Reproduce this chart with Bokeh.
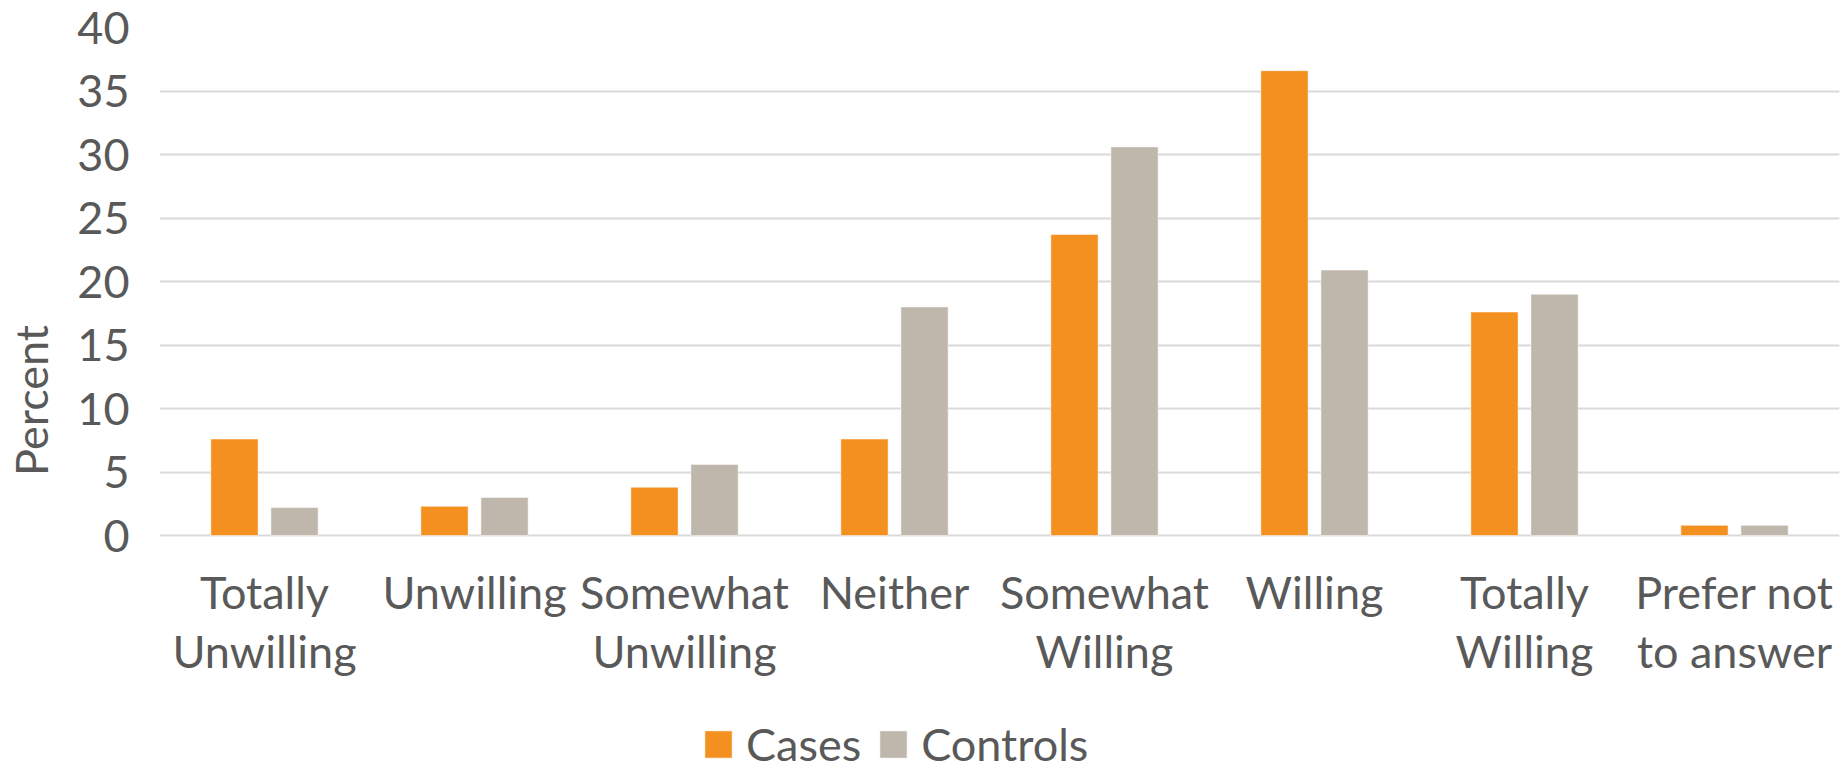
from bokeh.plotting import figure
from bokeh.models import ColumnDataSource, FactorRange, Range1d, FixedTicker, Legend, LegendItem
from bokeh.transform import dodge
from bokeh.core.properties import value
from bokeh.embed import file_html
from bokeh.resources import INLINE

categories = ["Totally Unwilling", "Unwilling", "Somewhat Unwilling", "Neither",
              "Somewhat Willing", "Willing", "Totally Willing", "Prefer not to answer"]
tick_labels = ["Totally\nUnwilling", "Unwilling", "Somewhat\nUnwilling", "Neither",
               "Somewhat\nWilling", "Willing", "Totally\nWilling", "Prefer not\nto answer"]
cases = [7.6, 2.3, 3.8, 7.6, 23.7, 36.6, 17.6, 0.8]
controls = [2.2, 3.0, 5.6, 18.0, 30.6, 20.9, 19.0, 0.8]
series_names = ["Cases", "Controls"]
y_ticks = [0, 5, 10, 15, 20, 25, 30, 35, 40]

FONT = "Lato"
FS = "45px"
TXT = "#595959"
ORANGE = "#F39020"
GRAY = "#BFB7AC"

# layout constants (data units for the area below the value axis)
Y_TOP = 40
Y_BOTTOM = -18.74
LABEL_Y = -2.3

src = ColumnDataSource(dict(cat=categories, cases=cases, controls=controls, lab=tick_labels))

p = figure(x_range=FactorRange(factors=categories, range_padding=0),
           y_range=Range1d(Y_BOTTOM, Y_TOP),
           width=1845, height=773, output_backend="svg", toolbar_location=None,
           min_border_left=159, min_border_right=6, min_border_top=27, min_border_bottom=0)
p.outline_line_color = None
p.background_fill_color = "white"

r1 = p.vbar(x=dodge("cat", -0.143, range=p.x_range), top="cases", width=0.225, source=src,
            fill_color=ORANGE, line_color="white", line_width=1, line_alpha=0.5)
r2 = p.vbar(x=dodge("cat", 0.143, range=p.x_range), top="controls", width=0.225, source=src,
            fill_color=GRAY, line_color="white", line_width=1, line_alpha=0.5)

# category labels (multi-line)
p.text(x="cat", y=LABEL_Y, text="lab", source=src, text_align="center", text_baseline="top",
       text_font=value(FONT), text_font_size=FS, text_color=TXT, text_line_height=1.10)

p.xaxis.visible = False

yax = p.yaxis[0]
yax.ticker = FixedTicker(ticks=y_ticks)
yax.axis_label = "Percent"
yax.axis_line_color = None
yax.major_tick_line_color = None
yax.minor_tick_line_color = None
yax.major_label_text_font = FONT
yax.major_label_text_font_size = FS
yax.major_label_text_color = TXT
yax.axis_label_text_font = FONT
yax.axis_label_text_font_size = FS
yax.axis_label_text_color = TXT
yax.axis_label_text_font_style = "normal"
yax.major_label_standoff = 24
yax.axis_label_standoff = 16

p.xgrid.grid_line_color = None
p.ygrid.grid_line_color = "#D9D9D9"
p.ygrid.grid_line_width = 2

legend = Legend(items=[LegendItem(label=series_names[0], renderers=[r1]),
                       LegendItem(label=series_names[1], renderers=[r2])],
                orientation="horizontal", location=(542, 2),
                label_text_font=FONT, label_text_font_size=FS, label_text_color=TXT,
                label_text_line_height=1.0,
                glyph_width=34, glyph_height=34, label_standoff=11, spacing=15,
                padding=0, margin=0, border_line_color=None, background_fill_alpha=0)
p.add_layout(legend, "center")

open("out.html", "w").write(file_html(p, INLINE))
